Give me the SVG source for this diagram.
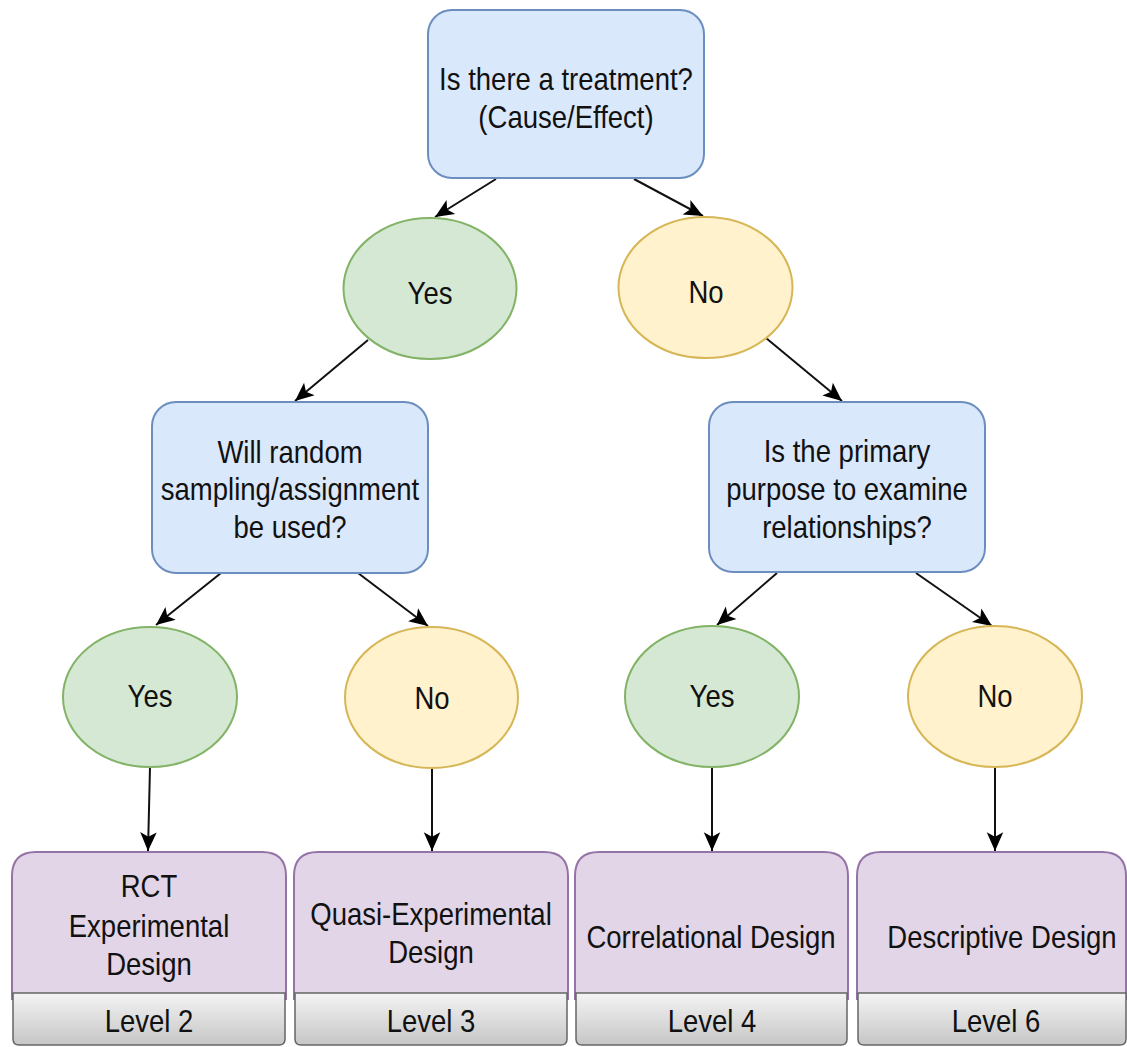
<svg xmlns="http://www.w3.org/2000/svg" width="1127" height="1047" viewBox="0 0 1127 1047">
<style>
.t{font-family:"Liberation Sans",Arial,sans-serif;font-size:32px;fill:#111;text-anchor:middle}
.q{fill:#dae8fc;stroke:#6c8ebf;stroke-width:2}
.y{fill:#d5e8d4;stroke:#82b366;stroke-width:2}
.n{fill:#fff2cc;stroke:#d6b656;stroke-width:2}
.d{fill:#e1d5e7;stroke:#9673a6;stroke-width:2}
.lv{fill:url(#g);stroke:#666;stroke-width:1.5}
.c{stroke:#111;stroke-width:2;fill:none;marker-end:url(#a)}
</style>
<defs>
<linearGradient id="g" x1="0" y1="0" x2="0" y2="1"><stop offset="0" stop-color="#f4f4f4"/><stop offset="1" stop-color="#c6c6c6"/></linearGradient>
<marker id="a" markerUnits="userSpaceOnUse" markerWidth="22" markerHeight="22" viewBox="-18 -9 20 18" refX="0" refY="0" orient="auto"><path d="M-17,-7.5 L0,0 L-17,7.5 L-13,0 Z" fill="#000"/></marker>
</defs>
<g id="connectors">
<line class="c" x1="496" y1="179" x2="435" y2="217"/>
<line class="c" x1="634" y1="179" x2="703" y2="216"/>
<line class="c" x1="368" y1="340" x2="295" y2="401"/>
<line class="c" x1="766" y1="338" x2="842" y2="401"/>
<line class="c" x1="221" y1="573" x2="156" y2="625"/>
<line class="c" x1="358" y1="573" x2="428" y2="626"/>
<line class="c" x1="777" y1="573" x2="717" y2="625"/>
<line class="c" x1="916" y1="573" x2="992" y2="626"/>
<line class="c" x1="150" y1="767" x2="148" y2="851"/>
<line class="c" x1="432" y1="768" x2="432" y2="851"/>
<line class="c" x1="712" y1="767" x2="712" y2="851"/>
<line class="c" x1="995" y1="767" x2="995" y2="851"/>
</g>
<g id="q1"><rect class="q" x="428" y="10" width="276" height="168" rx="24"/>
<text class="t" transform="translate(566,90) scale(0.86,1)">Is there a treatment?</text>
<text class="t" transform="translate(566,128) scale(0.86,1)">(Cause/Effect)</text></g>
<g id="yes1"><ellipse class="y" cx="430" cy="288.5" rx="86.5" ry="70.5"/><text class="t" transform="translate(430,304) scale(0.86,1)">Yes</text></g>
<g id="no1"><ellipse class="n" cx="705.5" cy="287.5" rx="87" ry="70.5"/><text class="t" transform="translate(706,303) scale(0.86,1)">No</text></g>
<g id="q2"><rect class="q" x="152" y="402" width="276" height="171" rx="24"/>
<text class="t" transform="translate(290,463) scale(0.86,1)">Will random</text>
<text class="t" transform="translate(290,500) scale(0.86,1)">sampling/assignment</text>
<text class="t" transform="translate(290,538) scale(0.86,1)">be used?</text></g>
<g id="q3"><rect class="q" x="709" y="402" width="276" height="170" rx="24"/>
<text class="t" transform="translate(847,462) scale(0.86,1)">Is the primary</text>
<text class="t" transform="translate(847,500) scale(0.86,1)">purpose to examine</text>
<text class="t" transform="translate(847,538) scale(0.86,1)">relationships?</text></g>
<g id="yes2"><ellipse class="y" cx="150" cy="697" rx="87" ry="70"/><text class="t" transform="translate(150,707) scale(0.86,1)">Yes</text></g>
<g id="no2"><ellipse class="n" cx="431.5" cy="697.5" rx="86.5" ry="70.5"/><text class="t" transform="translate(432,709) scale(0.86,1)">No</text></g>
<g id="yes3"><ellipse class="y" cx="712" cy="696.5" rx="87" ry="70.5"/><text class="t" transform="translate(712,707) scale(0.86,1)">Yes</text></g>
<g id="no3"><ellipse class="n" cx="995" cy="696.5" rx="87" ry="70.5"/><text class="t" transform="translate(995,707) scale(0.86,1)">No</text></g>
<g id="d1"><path class="d" d="M12,1000 V876 Q12,852 36,852 H262 Q286,852 286,876 V1000"/>
<path class="lv" d="M13,993 H285 V1039 Q285,1045 279,1045 H19 Q13,1045 13,1039 Z"/>
<text class="t" transform="translate(149,897) scale(0.86,1)">RCT</text>
<text class="t" transform="translate(149,937) scale(0.86,1)">Experimental</text>
<text class="t" transform="translate(149,975) scale(0.86,1)">Design</text>
<text class="t" transform="translate(149,1032) scale(0.86,1)">Level 2</text></g>
<g id="d2"><path class="d" d="M294,1000 V876 Q294,852 318,852 H544 Q568,852 568,876 V1000"/>
<path class="lv" d="M295,993 H567 V1039 Q567,1045 561,1045 H301 Q295,1045 295,1039 Z"/>
<text class="t" transform="translate(431,925) scale(0.86,1)">Quasi-Experimental</text>
<text class="t" transform="translate(431,963) scale(0.86,1)">Design</text>
<text class="t" transform="translate(431,1032) scale(0.86,1)">Level 3</text></g>
<g id="d3"><path class="d" d="M575,1000 V876 Q575,852 599,852 H824 Q848,852 848,876 V1000"/>
<path class="lv" d="M576,993 H847 V1039 Q847,1045 841,1045 H582 Q576,1045 576,1039 Z"/>
<text class="t" transform="translate(711,948) scale(0.86,1)">Correlational Design</text>
<text class="t" transform="translate(712,1032) scale(0.86,1)">Level 4</text></g>
<g id="d4"><path class="d" d="M857,1000 V876 Q857,852 881,852 H1102 Q1126,852 1126,876 V1000"/>
<path class="lv" d="M858,993 H1126 V1039 Q1126,1045 1120,1045 H864 Q858,1045 858,1039 Z"/>
<text class="t" transform="translate(1002,948) scale(0.86,1)">Descriptive Design</text>
<text class="t" transform="translate(996,1032) scale(0.86,1)">Level 6</text></g>
</svg>
